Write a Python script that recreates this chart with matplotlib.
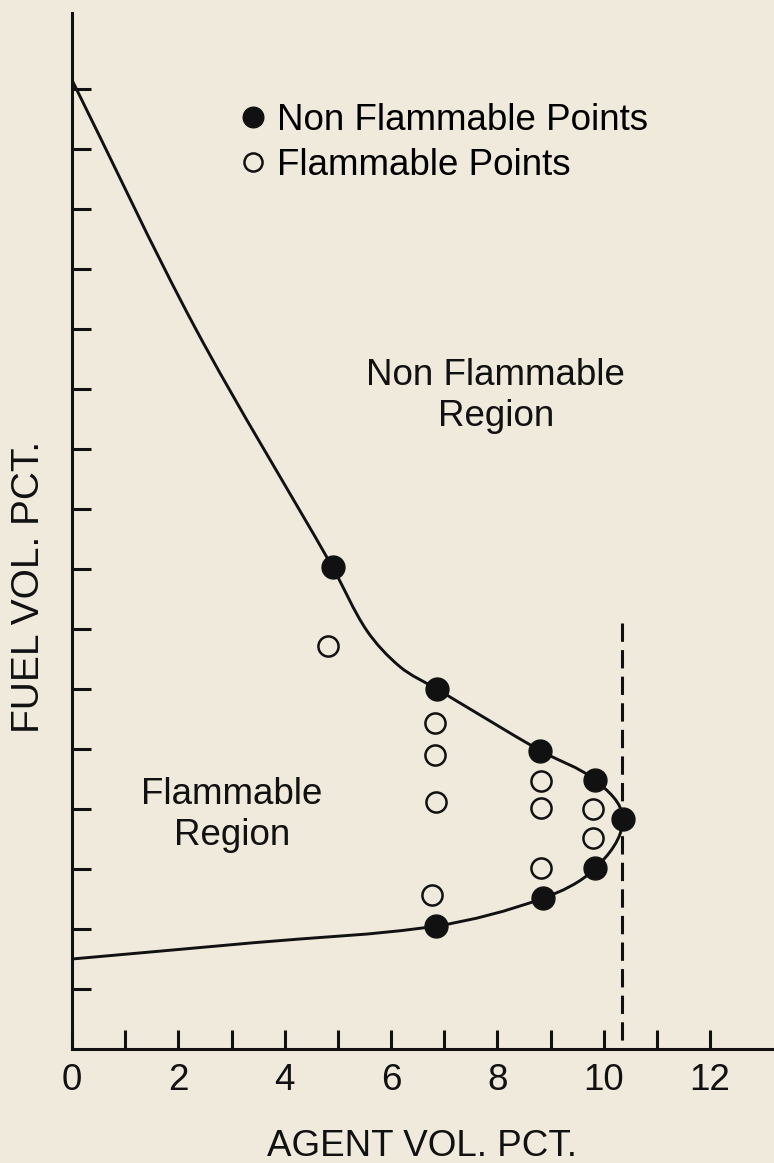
import matplotlib
matplotlib.use("Agg")
import math
import matplotlib.pyplot as plt
from matplotlib.path import Path
from matplotlib.patches import PathPatch
from matplotlib.ticker import FixedLocator

plt.rcParams['font.family'] = ['Liberation Sans', 'DejaVu Sans']

# Non flammable points (filled)
nonflam_x = [4.90, 6.86, 8.81, 9.84, 10.36, 9.84, 8.85, 6.85]
nonflam_y = [8.03, 6.00, 4.97, 4.48, 3.83, 3.01, 2.51, 2.05]

# Flammable points (open)
flam_x = [4.82, 6.82, 6.82, 6.84, 6.78, 8.83, 8.83, 8.83, 9.80, 9.80]
flam_y = [6.71, 5.43, 4.90, 4.12, 2.56, 4.46, 4.01, 3.01, 4.00, 3.51]

# Boundary curve knots: upper branch -> nose -> lower branch
curve_x = [0.0, 2.31, 4.90, 5.54, 6.17, 6.86, 8.81, 9.84, 10.36, 9.84, 8.85, 6.85, 3.40, 0.0]
curve_y = [16.15, 12.03, 8.03, 6.98, 6.37, 6.00, 4.97, 4.48, 3.83, 3.01, 2.51, 2.05, 1.77, 1.50]

# Dashed limit line
limit_x = 10.34
limit_top = 7.1

x_major = [0, 2, 4, 6, 8, 10, 12]
x_minor = [1, 3, 5, 7, 9, 11]
y_ticks = list(range(1, 17))

bg = '#f0eadc'
ink = '#111111'
fs = 26.5

fig = plt.figure(figsize=(7.74, 11.63), dpi=100, facecolor=bg)
ax = fig.add_axes([72 / 774, 114 / 1163, 702 / 774, 1036.5 / 1163])
ax.set_facecolor(bg)
ax.set_xlim(0, 702 / 53.17)
ax.set_ylim(0, 1036.5 / 60)

for side in ['top', 'right']:
    ax.spines[side].set_visible(False)
for side in ['left', 'bottom']:
    ax.spines[side].set_linewidth(2.2)
    ax.spines[side].set_color(ink)

ax.xaxis.set_major_locator(FixedLocator(x_major))
ax.xaxis.set_minor_locator(FixedLocator(x_minor))
ax.yaxis.set_major_locator(FixedLocator(y_ticks))
ax.tick_params(axis='both', which='both', direction='in', length=13.5, width=2.2, color=ink)
ax.tick_params(axis='x', labelsize=fs, pad=10, labelcolor=ink)
ax.tick_params(axis='y', labelleft=False)

# smooth boundary through the knots (tangent handles scaled by segment length)
pts = list(zip(curve_x, curve_y))
n = len(pts)


def unit_tangent(i):
    a = pts[max(i - 1, 0)]
    b = pts[min(i + 1, n - 1)]
    dx, dy = b[0] - a[0], b[1] - a[1]
    d = math.hypot(dx, dy)
    return dx / d, dy / d


verts = [pts[0]]
codes = [Path.MOVETO]
for i in range(n - 1):
    p1, p2 = pts[i], pts[i + 1]
    seg = math.hypot(p2[0] - p1[0], p2[1] - p1[1]) / 3
    u1, u2 = unit_tangent(i), unit_tangent(i + 1)
    verts += [(p1[0] + u1[0] * seg, p1[1] + u1[1] * seg),
              (p2[0] - u2[0] * seg, p2[1] - u2[1] * seg), p2]
    codes += [Path.CURVE4] * 3
ax.add_patch(PathPatch(Path(verts, codes), fill=False, lw=2.1, edgecolor=ink,
                       capstyle='round', joinstyle='round', zorder=3))

ax.plot([limit_x, limit_x], [limit_top, 0], color=ink, lw=2.2, dashes=(6, 2.7), zorder=2)

ax.plot(nonflam_x, nonflam_y, 'o', ls='none', ms=16.5, mfc=ink, mec=ink,
        label='Non Flammable Points', zorder=5)
ax.plot(flam_x, flam_y, 'o', ls='none', ms=14.5, mfc='none', mec=ink, mew=1.8,
        label='Flammable Points', zorder=5)

ax.legend(loc='upper left', bbox_to_anchor=(242 / 774, 1 - 103 / 1163),
          bbox_transform=fig.transFigure, frameon=False, fontsize=fs,
          handlelength=0.6, handletextpad=0.36, borderpad=0, borderaxespad=0,
          labelspacing=0.26, markerscale=0.9)

ax.text(7.97, 10.88, 'Non Flammable\nRegion', ha='center', va='center',
        fontsize=fs, color=ink, multialignment='center')
ax.text(3.01, 3.9, 'Flammable\nRegion', ha='center', va='center',
        fontsize=fs, color=ink, multialignment='center')

ax.set_xlabel('AGENT VOL. PCT.', fontsize=fs, color=ink)
ax.xaxis.label.set_va('center')
ax.xaxis.set_label_coords((422 - 72) / 702, (1049 - 1146) / 1036.5)
ax.set_ylabel('FUEL VOL. PCT.', fontsize=28, color=ink)
ax.yaxis.label.set_va('center')
ax.yaxis.set_label_coords((29 - 72) / 702, (1049 - 587) / 1036.5)

fig.savefig('out.png', dpi=100, facecolor=bg)
